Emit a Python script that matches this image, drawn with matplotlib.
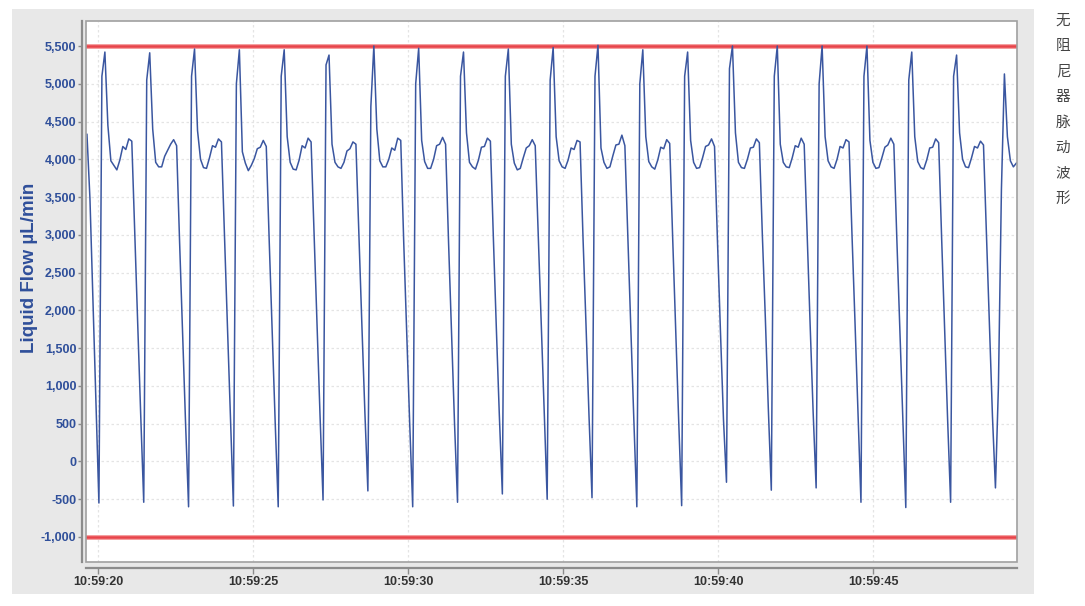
import matplotlib
matplotlib.use("Agg")
import matplotlib.pyplot as plt
from matplotlib.patches import Rectangle
import numpy as np

# ---------------- data ----------------
# time axis: seconds after 10:59:00, fixed sampling interval
t_start_s = 19.644
sample_interval_s = 0.0964

flow_start = [4330, 3480, 2150, 800]
cycle_01 = [-550, 5100, 5420, 4450, 3980, 3920, 3860, 3990, 4170, 4130, 4270, 4240, 3000, 1800, 600]
cycle_02 = [-540, 5050, 5410, 4400, 3960, 3900, 3900, 4040, 4120, 4200, 4260, 4180, 2900, 1700, 500]
cycle_03 = [-600, 5100, 5460, 4380, 4000, 3890, 3880, 4020, 4180, 4160, 4270, 4230, 3000, 1800, 600]
cycle_04 = [-590, 5000, 5450, 4100, 3950, 3850, 3920, 4010, 4140, 4160, 4250, 4170, 2900, 1700, 500]
cycle_05 = [-600, 5100, 5450, 4300, 3960, 3870, 3860, 3990, 4180, 4150, 4280, 4230, 3000, 1800, 600]
cycle_06 = [-510, 5250, 5380, 4200, 3960, 3900, 3880, 3960, 4110, 4140, 4230, 4200, 3000, 1800, 650]
cycle_07 = [-390, 4700, 5500, 4400, 3980, 3900, 3900, 4000, 4150, 4120, 4280, 4250, 2900, 1700, 500]
cycle_08 = [-600, 5000, 5470, 4250, 3970, 3880, 3880, 4000, 4180, 4200, 4290, 4200, 2900, 1700, 500]
cycle_09 = [-540, 5100, 5420, 4350, 3960, 3900, 3870, 3990, 4160, 4170, 4280, 4240, 2950, 1750, 600]
cycle_10 = [-430, 5100, 5460, 4200, 3950, 3860, 3880, 4020, 4150, 4180, 4260, 4180, 3000, 1800, 650]
cycle_11 = [-500, 5050, 5480, 4300, 3980, 3900, 3880, 3990, 4150, 4130, 4250, 4230, 2950, 1800, 600]
cycle_12 = [-480, 5100, 5510, 4150, 3960, 3880, 3900, 4050, 4190, 4200, 4320, 4180, 2950, 1750, 550]
cycle_13 = [-600, 5000, 5450, 4300, 3970, 3900, 3870, 3990, 4160, 4140, 4260, 4210, 2950, 1750, 550]
cycle_14 = [-585, 5100, 5420, 4250, 3960, 3880, 3890, 4020, 4170, 4190, 4270, 4170, 2900, 1700, 550]
cycle_15 = [-275, 5200, 5500, 4350, 3960, 3890, 3880, 4000, 4150, 4160, 4270, 4220, 3000, 1900, 700]
cycle_16 = [-380, 5100, 5500, 4200, 3960, 3900, 3890, 4020, 4180, 4160, 4280, 4200, 3000, 1800, 650]
cycle_17 = [-350, 5000, 5500, 4300, 3980, 3900, 3880, 4000, 4170, 4150, 4260, 4230, 3000, 1850, 650]
cycle_18 = [-540, 5100, 5500, 4250, 3960, 3880, 3890, 4020, 4160, 4190, 4280, 4200, 2950, 1750, 550]
cycle_19 = [-610, 5050, 5420, 4300, 3970, 3890, 3870, 3990, 4150, 4160, 4270, 4220, 2950, 1750, 550]
cycle_20 = [-540, 5100, 5380, 4350, 4000, 3900, 3890, 4020, 4170, 4150, 4240, 4190, 3000, 1800, 600]
flow_end = [-350, 1000, 3600, 5130, 4300, 3980, 3900, 3950]

upper_limit = 5500
lower_limit = -1000

x_tick_seconds = [20, 25, 30, 35, 40, 45]
x_tick_labels = ["10:59:20", "10:59:25", "10:59:30", "10:59:35", "10:59:40", "10:59:45"]
y_ticks = [-1000, -500, 0, 500, 1000, 1500, 2000, 2500, 3000, 3500, 4000, 4500, 5000, 5500]
y_tick_labels = ["-1,000", "-500", "0", "500", "1,000", "1,500", "2,000", "2,500",
                 "3,000", "3,500", "4,000", "4,500", "5,000", "5,500"]
y_label = "Liquid Flow µL/min"
side_title = "无阻尼器脉动波形"

cycles = [cycle_01, cycle_02, cycle_03, cycle_04, cycle_05, cycle_06, cycle_07,
          cycle_08, cycle_09, cycle_10, cycle_11, cycle_12, cycle_13, cycle_14,
          cycle_15, cycle_16, cycle_17, cycle_18, cycle_19, cycle_20]
flow = list(flow_start)
for c in cycles:
    flow.extend(c)
flow.extend(flow_end)
flow = np.array(flow, dtype=float)
t = t_start_s + sample_interval_s * np.arange(len(flow))

# ---------------- figure ----------------
W, H = 1085, 606
fig = plt.figure(figsize=(W / 100, H / 100), dpi=100)
fig.patch.set_facecolor("white")

# gray panel
fig.patches.append(Rectangle((12 / W, 1 - 594 / H), 1022 / W, 585 / H,
                             transform=fig.transFigure, facecolor="#e8e8e8",
                             edgecolor="none", zorder=0))

ax = fig.add_axes([86 / W, 1 - 562 / H, (1017 - 86) / W, (562 - 21) / H])
ax.set_facecolor("white")
ax.set_zorder(1)

ax.set_xlim(19.613, 49.645)
ax.set_ylim(-1331, 5831)

# grid
for yv in y_ticks:
    ax.axhline(yv, color="#e4e4e4", lw=0.9, ls=(0, (2, 2)), zorder=1)
for xv in x_tick_seconds:
    ax.axvline(xv, color="#e4e4e4", lw=0.9, ls=(0, (2, 2)), zorder=1)

# limit lines
for lim in (upper_limit, lower_limit):
    ax.axhline(lim, color="#f4a0a0", lw=3.6, zorder=2)
    ax.axhline(lim, color="#e8444a", lw=1.8, zorder=2)

# waveform
ax.plot(t, flow, color="#3a56a0", lw=1.1, zorder=3, solid_joinstyle="round")

# plot box
ax.add_patch(Rectangle((0, 0), 1, 1, transform=ax.transAxes, fill=False,
                       edgecolor="#a0a0a0", lw=1.2, zorder=5, clip_on=False))
for s in ("top", "right"):
    ax.spines[s].set_visible(False)
ax.spines["left"].set_position(("outward", 3))
ax.spines["bottom"].set_position(("outward", 4))
ax.spines["left"].set_color("#8c8c8c")
ax.spines["bottom"].set_color("#8c8c8c")
ax.spines["left"].set_linewidth(1.6)
ax.spines["bottom"].set_linewidth(1.6)

ax.set_yticks(y_ticks)
ax.set_yticklabels(y_tick_labels)
ax.set_xticks(x_tick_seconds)
ax.set_xticklabels(x_tick_labels)

ax.tick_params(axis="y", direction="out", length=3, width=1, color="#8c8c8c",
               pad=1, labelsize=9, labelcolor="#2f4f9a")
ax.tick_params(axis="x", direction="out", length=4, width=1, color="#8c8c8c",
               pad=2, labelsize=9, labelcolor="#333333")
for lab in ax.get_yticklabels() + ax.get_xticklabels():
    lab.set_fontfamily(["Liberation Sans", "DejaVu Sans"])
    lab.set_fontweight("bold")

fig.text(30 / W, 1 - 268 / H, y_label, rotation=90, ha="center", va="center",
         color="#2f4f9a", fontsize=13.5, fontweight="bold",
         family=["Liberation Sans", "DejaVu Sans"])

# vertical side title
for i, ch in enumerate(side_title):
    fig.text(1063 / W, 1 - (21 + i * 25.4) / H, ch, ha="center", va="center",
             color="#444444", fontsize=10.5,
             family=["Noto Sans CJK SC", "DejaVu Sans"])

fig.savefig("out.png", dpi=100, facecolor="white")
